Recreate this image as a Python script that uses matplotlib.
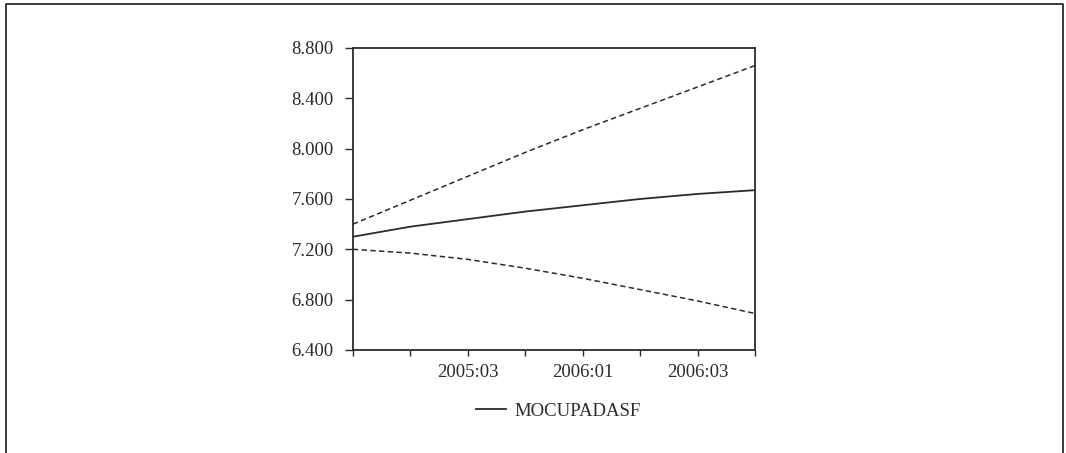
import matplotlib.pyplot as plt
from matplotlib.lines import Line2D

# Pronostico trimestral 2005:01 - 2006:04
trimestres = ['2005:01', '2005:02', '2005:03', '2005:04',
              '2006:01', '2006:02', '2006:03', '2006:04']
mocupadasf = [7.30, 7.38, 7.44, 7.50, 7.55, 7.60, 7.64, 7.67]
banda_sup = [7.40, 7.59, 7.78, 7.97, 8.15, 8.32, 8.49, 8.66]
banda_inf = [7.20, 7.17, 7.12, 7.05, 6.97, 6.88, 6.79, 6.69]
etiquetas_y = ['6.400', '6.800', '7.200', '7.600', '8.000', '8.400', '8.800']

plt.rcParams['font.family'] = ['Liberation Serif', 'DejaVu Serif']
gris = '#2b2b2b'

fig = plt.figure(figsize=(10.66, 4.53), dpi=100)
ax = fig.add_axes([0.3311, 0.2274, 0.3771, 0.6667])

x = list(range(len(trimestres)))
ax.plot(x, mocupadasf, color=gris, lw=1.3, label='MOCUPADASF')
ax.plot(x, banda_sup, color=gris, lw=1.1, ls=(0, (3.5, 2.2)))
ax.plot(x, banda_inf, color=gris, lw=1.1, ls=(0, (3.5, 2.2)))

ax.set_xlim(0, len(trimestres) - 1)
ax.set_ylim(6.4, 8.8)
ax.set_yticks([float(e) for e in etiquetas_y])
ax.set_yticklabels(etiquetas_y)
ax.set_xticks(x)
ax.set_xticklabels([t if i in (2, 4, 6) else '' for i, t in enumerate(trimestres)])

ax.tick_params(axis='y', direction='out', length=6, width=1, colors=gris,
               labelsize=13.5, pad=8)
ax.tick_params(axis='x', direction='out', length=4, width=1, colors=gris,
               labelsize=13.5, pad=6)
for s in ax.spines.values():
    s.set_color(gris)
    s.set_linewidth(1.3)

ax.legend(loc='upper center', bbox_to_anchor=(0.512, -0.118), frameon=False,
          fontsize=13.5, handlelength=1.6, handletextpad=0.45, labelcolor=gris)

# marco exterior (sin borde inferior)
fig.add_artist(Line2D([0.0056, 0.0056, 0.9972, 0.9972], [0.0, 0.9912, 0.9912, 0.0],
                      transform=fig.transFigure, color=gris, lw=1.3))

fig.savefig('out.png', dpi=100)
